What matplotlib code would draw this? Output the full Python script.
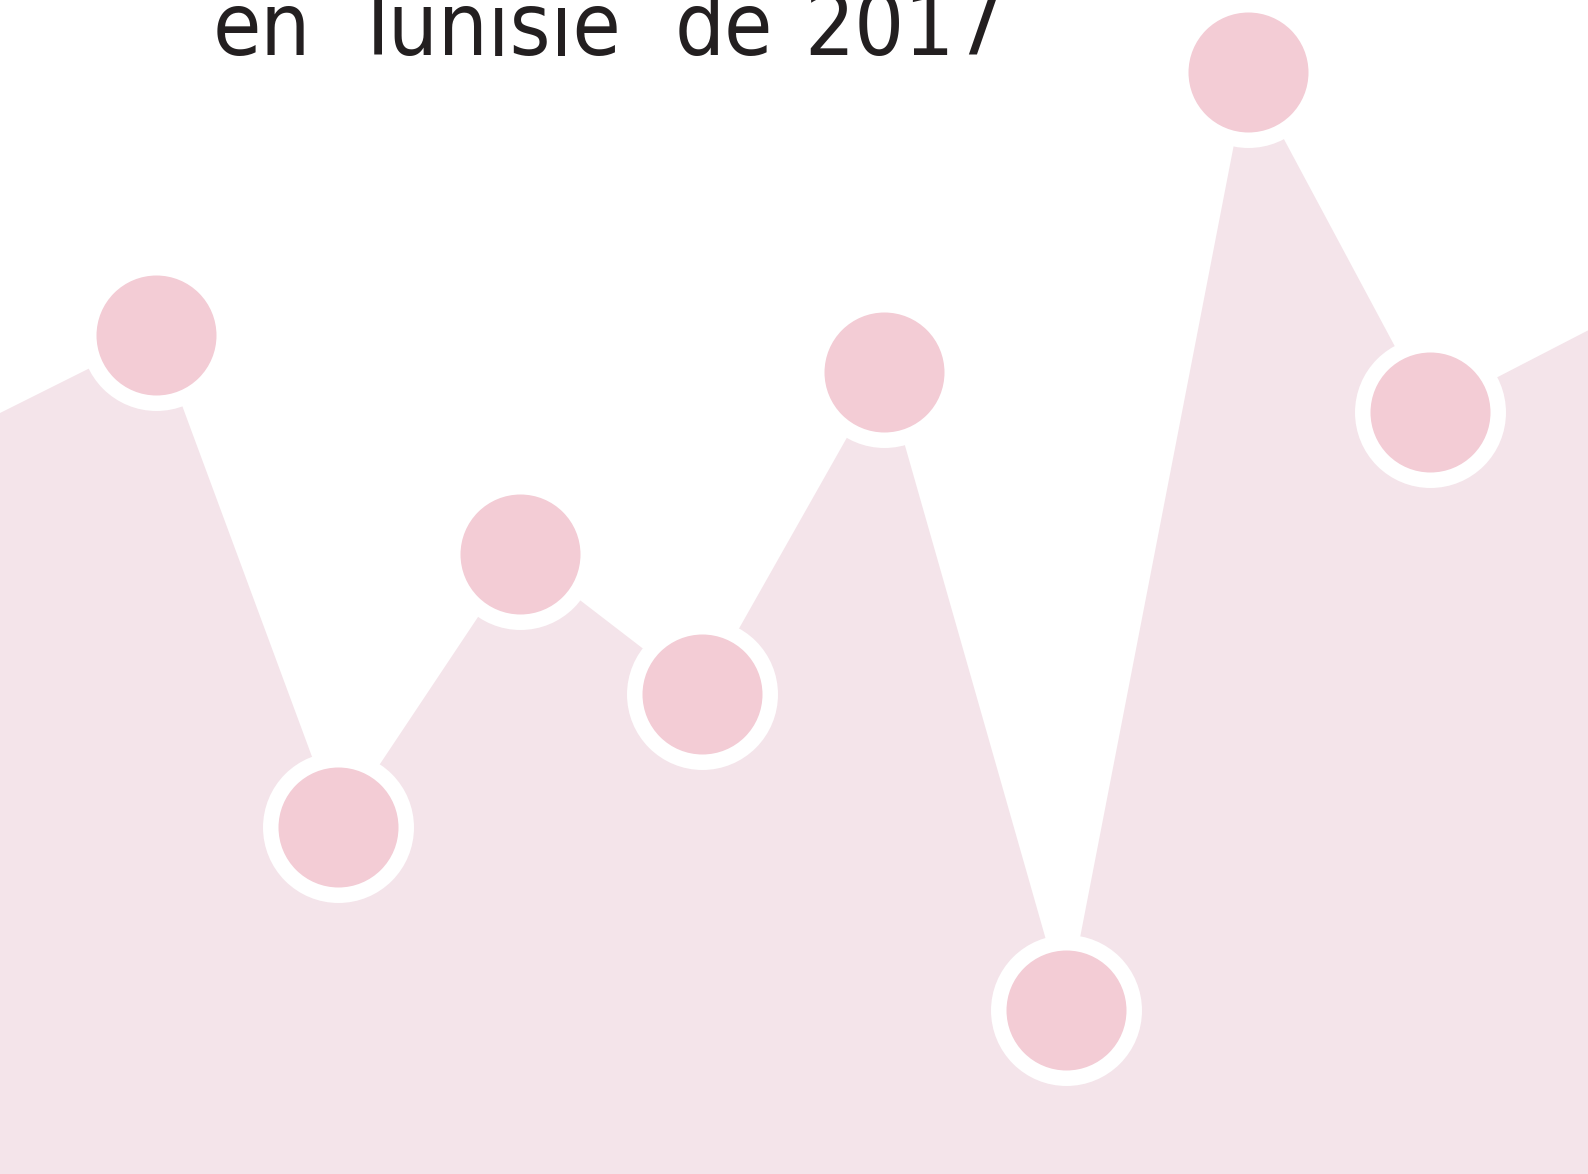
import numpy as np
import matplotlib.pyplot as plt

# values (height above the bottom edge, in pixels)
points = [0, 1, 2, 3, 4, 5, 6, 7, 8, 9]
values = [748, 839, 347, 620, 480, 802, 164, 1102, 762, 856]
title = 'en Tunisie de 2017'

area_color = '#f4e4ea'
dot_color = '#f3ccd5'

fig = plt.figure(figsize=(15.88, 11.74), dpi=100)
ax = fig.add_axes([0, 0, 1, 1])

#area under the line
ax.fill_between(points, values, 0, color=area_color, linewidth=0, zorder=1)

#white ring then pink dot, only for the visible points
ax.plot(points[1:9], values[1:9], 'o', ms=108.7, color='white', mec='none', zorder=2)
ax.plot(points[1:9], values[1:9], 'o', ms=86.4, color=dot_color, mec='none', zorder=3)

# x: point 1 sits at 156 px, spacing 182 px
ax.set_xlim(1 - 156 / 182, 1 + (1588 - 156) / 182)
ax.set_ylim(0, 1174)
ax.axis('off')

# the title font is tracked wide, so each word gets its own left edge (px)
word_left = [213, 353, 675, 804]
for word, xl in zip(title.split(), word_left):
    fig.text(xl / 1588, 1119 / 1174, word, fontsize=63, color='#231f20',
             ha='left', va='baseline', family='DejaVu Sans', fontstretch='condensed')

fig.savefig('out.png', dpi=100)
